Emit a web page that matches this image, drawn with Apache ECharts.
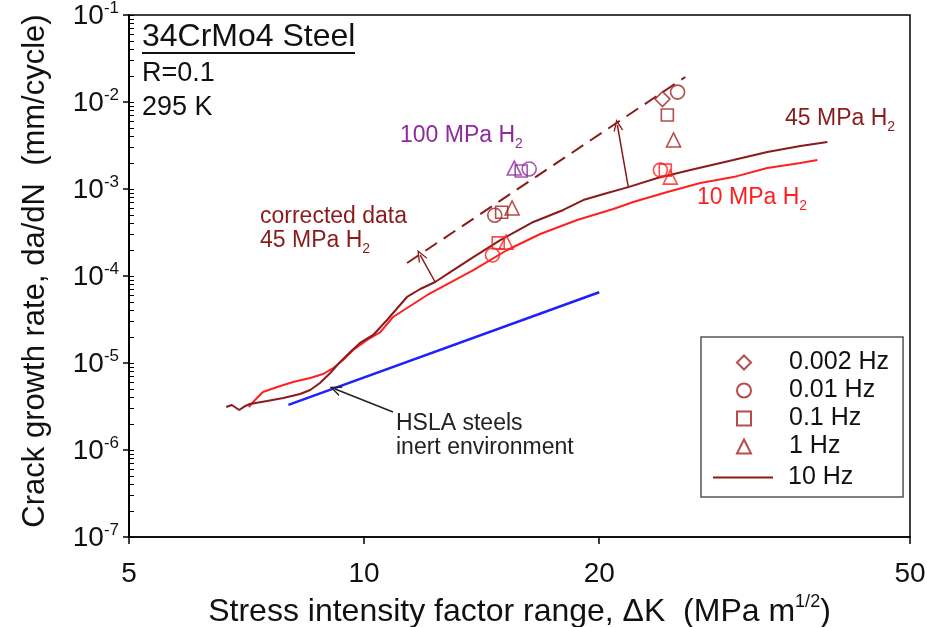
<!DOCTYPE html>
<html><head><meta charset="utf-8">
<script src="https://cdn.jsdelivr.net/npm/echarts@6/dist/echarts.min.js"></script>
<style>html,body{margin:0;padding:0;background:#fff}#c{width:927px;height:627px}</style>
</head><body><div id="c"></div>
<script>
// ---- tick values ----
const xTicks = [5, 10, 20, 50];
const yTicks = [1e-7, 1e-6, 1e-5, 1e-4, 1e-3, 1e-2, 1e-1];
const yMinorMantissas = [2, 3, 4, 5, 6, 7, 8, 9];

// ---- curves (ΔK in MPa m^1/2, da/dN in mm/cycle) ----
const line45MPa = [[6.66,3.12e-6],[6.77,3.29e-6],[6.92,2.88e-6],[7.04,3.20e-6],[7.14,3.38e-6],[7.51,3.66e-6],[7.88,3.96e-6],[8.28,4.40e-6],[8.53,4.89e-6],[8.78,5.89e-6],[9.05,7.68e-6],[9.32,1.03e-5],[9.60,1.34e-5],[9.88,1.70e-5],[10.27,2.10e-5],[10.70,3.12e-5],[11.06,4.40e-5],[11.35,5.74e-5],[11.80,7.09e-5],[12.33,8.53e-5],[12.89,1.11e-4],[13.80,1.65e-4],[14.94,2.59e-4],[16.47,4.18e-4],[17.99,5.74e-4],[19.08,7.47e-4],[20.48,9.0e-4],[21.79,1.05e-3],[23.74,1.34e-3],[26.17,1.65e-3],[29.70,2.15e-3],[32.83,2.66e-3],[36.19,3.12e-3],[39.19,3.47e-3]];
const line10MPa = [[7.12,3.12e-6],[7.25,3.76e-6],[7.42,4.64e-6],[7.74,5.30e-6],[8.11,6.05e-6],[8.53,6.72e-6],[8.86,7.47e-6],[9.13,8.76e-6],[9.40,1.08e-5],[9.68,1.41e-5],[10.09,1.84e-5],[10.49,2.27e-5],[10.89,3.38e-5],[11.35,4.29e-5],[12.05,6.05e-5],[12.52,7.28e-5],[13.80,1.17e-4],[15.25,1.99e-4],[16.81,3.04e-4],[18.74,4.40e-4],[20.85,5.89e-4],[22.11,7.09e-4],[24.45,9.24e-4],[26.95,1.17e-3],[29.70,1.37e-3],[32.83,1.74e-3],[36.19,1.99e-3],[38.05,2.15e-3]];
const correctedLine = [[11.35,1.41e-4],[25.78,1.94e-2]];
const hslaLine = [[8.0,3.3e-6],[20.0,6.5e-5]];

// ---- data points ----
const pts45_0002Hz = [[24.1,1.08e-2]];
const pts45_001Hz = [[14.7,5.0e-4],[25.2,1.3e-2]];
const pts45_01Hz = [[15.0,5.4e-4],[24.45,7.1e-3]];
const pts45_1Hz = [[15.47,6.05e-4],[24.9,3.66e-3]];
const pts10_001Hz = [[14.6,1.74e-4],[23.95,1.65e-3]];
const pts10_01Hz = [[14.85,2.4e-4],[24.3,1.65e-3]];
const pts10_1Hz = [[15.2,2.45e-4],[24.66,1.37e-3]];
const pts100_001Hz = [[16.27,1.70e-3]];
const pts100_01Hz = [[15.89,1.61e-3]];
const pts100_1Hz = [[15.57,1.74e-3]];

// ---- arrows (from, to) ----
const arrowCorr1 = [[12.33,8.53e-5],[11.8,1.74e-4]];
const arrowCorr2 = [[21.79,1.054e-3],[21.1,5.44e-3]];
const arrowHsla = [[10.89,2.73e-6],[9.18,5.02e-6]];

const DARK = '#8b1a1a', MARK = '#a51f1f', RED = '#ff1f1f', BLUE = '#1f1fff', PURPLE = '#8e2a9e';
const FONT = '"Liberation Sans", Arial, sans-serif';
const ARROW = 'path://M5,0 L10,10 L8.6,10 L5,2.8 L1.4,10 L0,10 Z';

const yAllTicks = [];
yTicks.slice(0, -1).forEach(d => { yAllTicks.push(d); yMinorMantissas.forEach(m => yAllTicks.push(m * d)); });
yAllTicks.push(yTicks[yTicks.length - 1]);

function marker(name, data, symbol, color, size) {
  return { type: 'scatter', name, data, symbol, symbolSize: size || 13, z: 5,
    itemStyle: { color: 'rgba(0,0,0,0)', borderColor: color, borderWidth: 1.6 } };
}
function arrowData(a, color) {
  return [{ coord: a[0], lineStyle: { color } }, { coord: a[1] }];
}

const chart = echarts.init(document.getElementById('c'), null, { renderer: 'canvas' });
const subRich = (size, color) => ({
  a: { fontSize: size, fill: color, fontFamily: FONT, verticalAlign: 'top', lineHeight: size + 4 },
  s: { fontSize: Math.round(size * 0.62), fill: color, fontFamily: FONT, verticalAlign: 'bottom', lineHeight: 10 }
});

chart.setOption({
  animation: false,
  backgroundColor: '#fff',
  textStyle: { fontFamily: FONT },
  grid: { left: 129, right: 17, top: 15, bottom: 90, show: true, borderColor: '#000', borderWidth: 1.5,
    containLabel: false, outerBoundsMode: 'none' },
  legend: [{
    data: ['0.002 Hz', '0.01 Hz', '0.1 Hz', '1 Hz'],
    orient: 'vertical', left: 701, top: 337, selectedMode: false,
    padding: [13, 14, 38, 35], itemGap: 3, itemWidth: 14, itemHeight: 14,
    borderColor: '#555', borderWidth: 1.5, backgroundColor: 'transparent',
    textStyle: { fontSize: 25, lineHeight: 24, color: '#111', fontFamily: FONT, padding: [0, 0, 0, 33] }
  }, {
    data: [{ name: '10 Hz', icon: 'rect' }],
    orient: 'vertical', left: 713, top: 465, selectedMode: false,
    padding: 0, itemWidth: 60, itemHeight: 2,
    textStyle: { fontSize: 25, lineHeight: 24, color: '#111', fontFamily: FONT, padding: [0, 0, 0, 10] }
  }],
  xAxis: {
    type: 'log', logBase: 10, min: 5, max: 50,
    axisLine: { show: true, lineStyle: { color: '#000', width: 1.5 } },
    axisTick: { show: true, inside: false, length: 7, customValues: xTicks, lineStyle: { color: '#000', width: 1.5 } },
    axisLabel: { customValues: xTicks, formatter: v => String(Math.round(v)), fontSize: 28, color: '#111', fontFamily: FONT, margin: 23 },
    splitLine: { show: false }, minorTick: { show: false },
    name: '{a|Stress intensity factor range, ΔK  (MPa m}{s|1/2}{a|)}',
    nameLocation: 'middle', nameGap: 46,
    nameTextStyle: { rich: {
      a: { fontSize: 32, color: '#111', fontFamily: FONT, verticalAlign: 'bottom', lineHeight: 35 },
      s: { fontSize: 18, color: '#111', fontFamily: FONT, verticalAlign: 'top', lineHeight: 19 } } }
  },
  yAxis: [{
    type: 'log', logBase: 10, min: 1e-7, max: 1e-1,
    axisLine: { show: true, lineStyle: { color: '#000', width: 1.5 } },
    axisTick: { show: true, inside: true, length: 5, customValues: yAllTicks, lineStyle: { color: '#000', width: 1 } },
    axisLabel: { customValues: yTicks, margin: 10,
      formatter: v => '{b|10}{e|' + Math.round(Math.log10(v)) + '}',
      rich: {
        b: { fontSize: 28, color: '#111', fontFamily: FONT, verticalAlign: 'bottom', lineHeight: 30 },
        e: { fontSize: 17, color: '#111', fontFamily: FONT, verticalAlign: 'top', lineHeight: 18 } } },
    splitLine: { show: false }, minorTick: { show: false },
    name: 'Crack growth rate, da/dN  (mm/cycle)', nameLocation: 'middle', nameGap: 78,
    nameTextStyle: { fontSize: 31, color: '#111', fontFamily: FONT, padding: [0, 0, 0, 10] }
  }, {
    type: 'log', logBase: 10, min: 1e-7, max: 1e-1, position: 'left', offset: 0,
    axisLine: { show: true, lineStyle: { color: '#000', width: 1.5 } },
    axisTick: { show: true, inside: false, length: 6, customValues: yTicks, lineStyle: { color: '#000', width: 1.5 } },
    axisLabel: { show: false }, splitLine: { show: false }
  }],
  graphic: [
    { type: 'text', x: 142, y: 37, style: { text: '34CrMo4 Steel', fontSize: 32, fill: '#111', fontFamily: FONT, verticalAlign: 'middle' } },
    { type: 'line', shape: { x1: 142, y1: 53, x2: 355, y2: 53 }, style: { stroke: '#111', lineWidth: 2 } },
    { type: 'text', x: 142, y: 74, style: { text: 'R=0.1', fontSize: 27, fill: '#111', fontFamily: FONT, verticalAlign: 'middle' } },
    { type: 'text', x: 142, y: 108, style: { text: '295 K', fontSize: 27, fill: '#111', fontFamily: FONT, verticalAlign: 'middle' } },
    { type: 'text', x: 400, y: 138, style: { text: '{a|100 MPa H}{s|2}', rich: subRich(23, PURPLE), verticalAlign: 'middle' } },
    { type: 'text', x: 260, y: 217, style: { text: 'corrected data', fontSize: 23, fill: DARK, fontFamily: FONT, verticalAlign: 'middle' } },
    { type: 'text', x: 260, y: 243, style: { text: '{a|45 MPa H}{s|2}', rich: subRich(23, DARK), verticalAlign: 'middle' } },
    { type: 'text', x: 785, y: 121, style: { text: '{a|45 MPa H}{s|2}', rich: subRich(23, DARK), verticalAlign: 'middle' } },
    { type: 'text', x: 697, y: 200, style: { text: '{a|10 MPa H}{s|2}', rich: subRich(23, RED), verticalAlign: 'middle' } },
    { type: 'text', x: 396, y: 424, style: { text: 'HSLA steels', fontSize: 23, fill: '#222', fontFamily: FONT, verticalAlign: 'middle' } },
    { type: 'text', x: 396, y: 448, style: { text: 'inert environment', fontSize: 23, fill: '#222', fontFamily: FONT, verticalAlign: 'middle' } }
  ],
  series: [
    { type: 'line', name: '10 MPa H2', data: line10MPa, symbol: 'none', lineStyle: { color: RED, width: 2 }, itemStyle: { color: RED }, z: 3 },
    { type: 'line', name: '10 Hz', data: line45MPa, symbol: 'none', lineStyle: { color: DARK, width: 2 }, itemStyle: { color: DARK }, z: 4 },
    { type: 'line', name: 'corrected', data: correctedLine, symbol: 'none', lineStyle: { color: DARK, width: 2, type: [14, 8] }, itemStyle: { color: DARK }, z: 4,
      markLine: { silent: true, symbol: ['none', ARROW], symbolSize: [10, 12], label: { show: false },
        lineStyle: { color: DARK, width: 1.5, type: 'solid' }, emphasis: { disabled: true },
        data: [arrowData(arrowCorr1, DARK), arrowData(arrowCorr2, DARK)] } },
    { type: 'line', name: 'HSLA', data: hslaLine, yAxisIndex: 1, symbol: 'none', lineStyle: { color: BLUE, width: 2.5 }, itemStyle: { color: BLUE }, z: 3,
      markLine: { silent: true, symbol: ['none', ARROW], symbolSize: [10, 12], label: { show: false },
        lineStyle: { color: '#222', width: 1.5, type: 'solid' }, emphasis: { disabled: true },
        data: [arrowData(arrowHsla, '#222')] } },
    marker('0.002 Hz', pts45_0002Hz, 'diamond', MARK, 15),
    marker('0.01 Hz', pts45_001Hz, 'circle', MARK, 14),
    marker('0.1 Hz', pts45_01Hz, 'rect', MARK, 12),
    marker('1 Hz', pts45_1Hz, 'triangle', MARK, 14),
    marker('10 MPa 0.01 Hz', pts10_001Hz, 'circle', RED, 14),
    marker('10 MPa 0.1 Hz', pts10_01Hz, 'rect', RED, 12),
    marker('10 MPa 1 Hz', pts10_1Hz, 'triangle', RED, 14),
    marker('100 MPa 0.01 Hz', pts100_001Hz, 'circle', PURPLE, 14),
    marker('100 MPa 0.1 Hz', pts100_01Hz, 'rect', PURPLE, 12),
    marker('100 MPa 1 Hz', pts100_1Hz, 'triangle', PURPLE, 14)
  ]
});
</script></body></html>
